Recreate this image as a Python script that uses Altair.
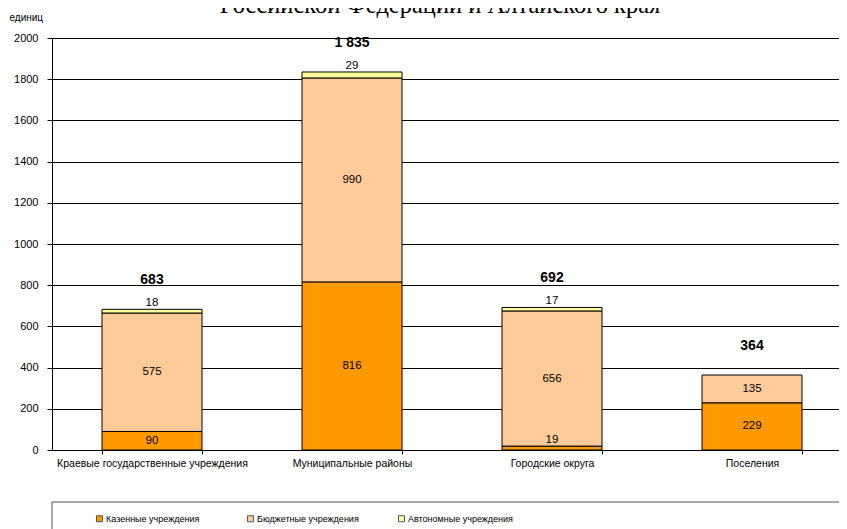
import altair as alt
import pandas as pd

categories = ["Краевые государственные учреждения", "Муниципальные районы",
              "Городские округа", "Поселения"]
series = ["Казенные учреждения", "Бюджетные учреждения", "Автономные учреждения"]
kazennye = [90, 816, 19, 229]
byudzhetnye = [575, 990, 656, 135]
avtonomnye = [18, 29, 17, 0]
colors = ["#FF9900", "#FFCC99", "#FFFF99"]
y_ticks = [0, 200, 400, 600, 800, 1000, 1200, 1400, 1600, 1800, 2000]
title_text = "Российской Федерации и Алтайского края"
y_title = "единиц"

FONT = "Liberation Sans"

rows = []
for i, c in enumerate(categories):
    vals = [kazennye[i], byudzhetnye[i], avtonomnye[i]]
    base = 0
    for j, s in enumerate(series):
        v = vals[j]
        rows.append(dict(cat=c, series=s, order=j, value=v, y0=base, y1=base + v,
                         ymid=base + v / 2))
        base += v
df = pd.DataFrame(rows)
bars_df = df[df.value > 0]

mid_df = df[(df.series == series[1]) | ((df.series == series[0]) & (df.value >= 50))]
above_df = df[((df.series == series[2]) & (df.value > 0)) |
              ((df.series == series[0]) & (df.value < 50))]
tot_df = df.groupby("cat", sort=False)["value"].sum().reset_index()
tot_df["label"] = tot_df["value"].map(lambda v: f"{v:,}".replace(",", " "))

xscale = alt.Scale(domain=categories, range=[0, 800], paddingInner=0.5, paddingOuter=0.25)
yscale = alt.Scale(domain=[0, 2000], nice=False)

xaxis = alt.Axis(title=None, labelAngle=0, labelFont=FONT, labelFontSize=10.5,
                 labelColor="black", tickBand="extent", tickSize=4, tickColor="black",
                 domainColor="black", labelPadding=4, grid=False, labelLimit=0)
yaxis = alt.Axis(values=y_ticks, format="d", title=y_title, titleAngle=0, titleAlign="left",
                 titleBaseline="middle", titleX=-43, titleY=-21, titleFont=FONT,
                 titleFontSize=10, titleFontWeight="normal", titleColor="black",
                 labelFont=FONT, labelFontSize=11, labelColor="black", labelPadding=9,
                 tickSize=5, tickColor="black", domainColor="black", grid=True,
                 gridColor="black", gridWidth=1)

X = lambda: alt.X("cat:N", sort=categories, scale=xscale, axis=xaxis)

bars = alt.Chart(bars_df).mark_bar(stroke="black", strokeWidth=1).encode(
    x=X(),
    y=alt.Y("y0:Q", scale=yscale, axis=yaxis),
    y2="y1:Q",
    color=alt.Color("series:N", scale=alt.Scale(domain=series, range=colors),
                    legend=alt.Legend(title=None, orient="none", legendX=43, legendY=476,
                                      direction="horizontal", columns=3,
                                      symbolType="square", symbolSize=36,
                                      symbolStrokeColor="#555555", symbolStrokeWidth=1,
                                      labelFont=FONT, labelFontSize=9,
                                      labelColor="black", labelOffset=2, columnPadding=34,
                                      gridAlign="all", padding=0, labelLimit=0)),
)

mid = alt.Chart(mid_df).mark_text(font=FONT, fontSize=11.5, color="black",
                                   baseline="middle").encode(
    x=X(), y=alt.Y("ymid:Q", scale=yscale, axis=yaxis), text="value:Q")

above = alt.Chart(above_df).mark_text(font=FONT, fontSize=11.5, color="black",
                                       baseline="middle", dy=-6).encode(
    x=X(), y=alt.Y("y1:Q", scale=yscale, axis=yaxis), text="value:Q")

totals = alt.Chart(tot_df).mark_text(font=FONT, fontSize=14, fontWeight="bold",
                                      color="black", baseline="middle", dy=-29).encode(
    x=X(), y=alt.Y("value:Q", scale=yscale, axis=yaxis), text="label:N")

box = alt.Chart(pd.DataFrame({"k": [0]})).mark_rect(
    fill="transparent", stroke="#555555", strokeWidth=1).encode(
    x=alt.value(0), x2=alt.value(800), y=alt.value(464), y2=alt.value(540))

title = alt.Chart(pd.DataFrame({"t": [title_text]})).mark_text(
    font="Liberation Serif", fontSize=24.5, baseline="alphabetic", align="center",
    color="black").encode(x=alt.value(388), y=alt.value(-25), text="t:N")

chart = alt.layer(box, bars, mid, above, totals, title).properties(
    width=787, height=412,
    autosize=alt.AutoSizeParams(type="none"),
    padding={"left": 44, "top": 30, "right": 0, "bottom": 79},
).configure_view(stroke=None)

chart.save("out.html", embed_options={"renderer": "svg", "actions": False})
